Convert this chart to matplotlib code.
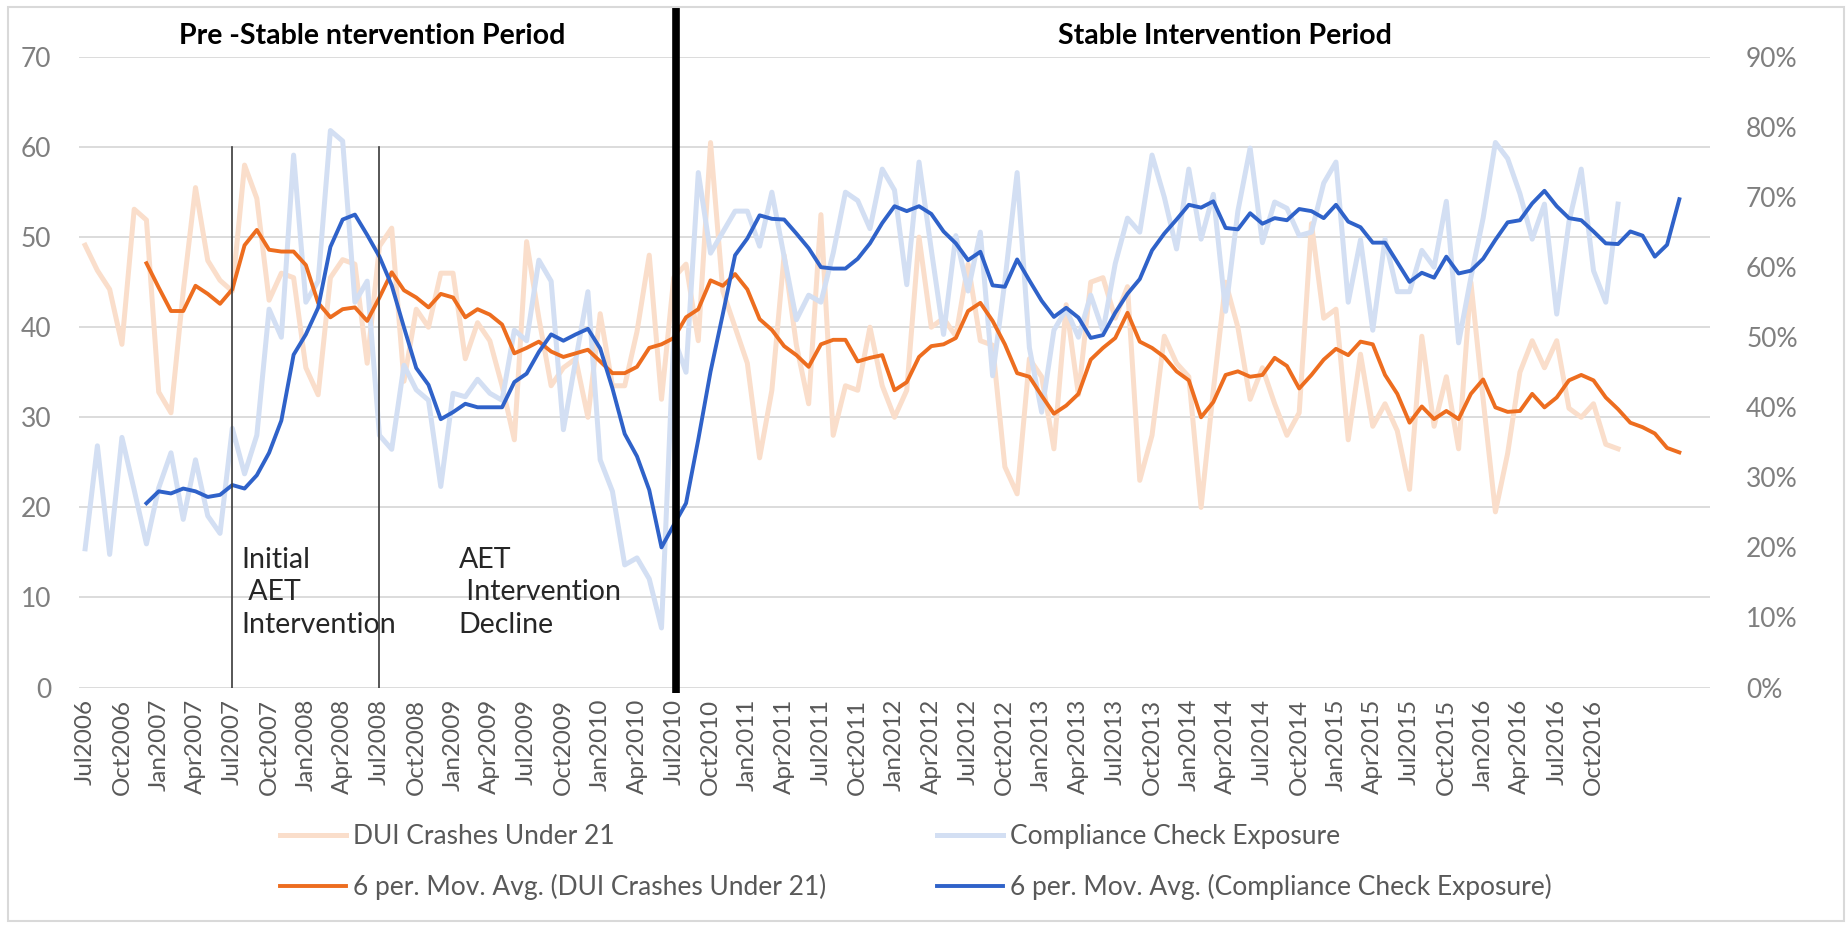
import numpy as np
import matplotlib.pyplot as plt
from matplotlib.patches import Rectangle
from matplotlib.ticker import FuncFormatter

plt.rcParams['font.family'] = ['Lato', 'DejaVu Sans']

# monthly categories Jul2006 .. Jul2017, labels every 3 months (last months unlabeled)
n_months = 133
tick_labels = ['Jul2006', 'Oct2006', 'Jan2007', 'Apr2007', 'Jul2007', 'Oct2007',
               'Jan2008', 'Apr2008', 'Jul2008', 'Oct2008', 'Jan2009', 'Apr2009',
               'Jul2009', 'Oct2009', 'Jan2010', 'Apr2010', 'Jul2010', 'Oct2010',
               'Jan2011', 'Apr2011', 'Jul2011', 'Oct2011', 'Jan2012', 'Apr2012',
               'Jul2012', 'Oct2012', 'Jan2013', 'Apr2013', 'Jul2013', 'Oct2013',
               'Jan2014', 'Apr2014', 'Jul2014', 'Oct2014', 'Jan2015', 'Apr2015',
               'Jul2015', 'Oct2015', 'Jan2016', 'Apr2016', 'Jul2016', 'Oct2016']

# DUI crashes under 21 (left axis), Jul2006 .. Dec2016
dui_crashes = [49.1, 46.3, 44.2, 38.1, 53.1, 51.9, 32.8, 30.5, 44, 55.5,
               47.4, 45.2, 44, 58, 54.3, 43, 46, 45.5, 35.5, 32.5,
               45.5, 47.5, 47, 36, 49, 51, 34, 42, 40, 46,
               46, 36.5, 40.5, 38.5, 33.5, 27.5, 49.5, 41, 33.5, 35.5,
               36.5, 30, 41.5, 33.5, 33.5, 39.5, 48, 32, 45.5, 47,
               38.5, 60.5, 44, 40, 36, 25.5, 33, 48, 38, 31.5,
               52.5, 28, 33.5, 33, 40, 33.5, 30, 33, 50, 40,
               41, 39, 47, 38.5, 38, 24.5, 21.5, 36.5, 34.5, 26.5,
               42.5, 32.5, 45, 45.5, 41, 44.5, 23, 28, 39, 36,
               34.5, 20, 33, 45, 40, 32, 35.5, 31.5, 28, 30.5,
               51.5, 41, 42, 27.5, 37, 29, 31.5, 28.5, 22, 39,
               29, 34.5, 26.5, 45, 32, 19.5, 26, 35, 38.5, 35.5,
               38.5, 31, 30, 31.5, 27, 26.5]

# 6 period moving average of DUI crashes, starts at the 6th month
dui_mov_avg = [47.1, 44.4, 41.8, 41.8, 44.6, 43.7, 42.6, 44.2, 49.1, 50.8,
               48.6, 48.4, 48.4, 46.9, 42.7, 41.1, 42.0, 42.2, 40.7, 43.3,
               46.1, 44.1, 43.3, 42.2, 43.7, 43.3, 41.1, 42.0, 41.4, 40.3,
               37.1, 37.7, 38.4, 37.3, 36.7, 37.1, 37.5, 36.2, 34.9, 34.9,
               35.6, 37.7, 38.1, 38.8, 41.1, 42.0, 45.2, 44.6, 45.9, 44.2,
               40.9, 39.7, 37.9, 36.9, 35.6, 38.1, 38.6, 38.6, 36.2, 36.6,
               36.9, 33.0, 33.9, 36.7, 37.9, 38.1, 38.8, 41.8, 42.7, 40.7,
               38.1, 34.9, 34.5, 32.4, 30.4, 31.3, 32.6, 36.4, 37.7, 38.8,
               41.6, 38.4, 37.7, 36.7, 35.1, 34.1, 30.0, 31.7, 34.7, 35.1,
               34.5, 34.7, 36.6, 35.7, 33.2, 34.7, 36.4, 37.6, 36.9, 38.4,
               38.1, 34.7, 32.6, 29.4, 31.2, 29.8, 30.7, 29.8, 32.6, 34.2,
               31.1, 30.6, 30.7, 32.6, 31.1, 32.2, 34.1, 34.7, 34.1, 32.2,
               30.9, 29.4, 28.9, 28.2, 26.6, 26.1]

# compliance check exposure in percent (right axis)
compliance = [19.8, 34.5, 19.0, 35.7, 28.2, 20.5, 28.5, 33.5, 24, 32.5,
              24.5, 22, 37, 30.5, 36, 54, 50, 76, 55, 58,
              79.5, 78, 55, 58, 36, 34, 46, 42.5, 41, 28.7,
              42, 41.5, 44, 42, 41, 51, 49.5, 61, 58, 36.8,
              46.7, 56.5, 32.5, 28, 17.5, 18.5, 15.5, 8.5, 50, 45,
              73.5, 62, 65, 68, 68, 63, 70.7, 61.5, 52.5, 56,
              55, 62, 70.7, 69.5, 65.5, 74, 71, 57.5, 75, 62.5,
              50.4, 64.5, 56.6, 65, 44.5, 58, 73.5, 48.5, 39.3, 51,
              54, 50, 56, 50.9, 60.5, 67, 65, 76, 70, 62.6,
              74, 64, 70.4, 53.7, 68, 77, 63.5, 69.3, 68.4, 64.5,
              65, 72, 75, 55, 63.9, 51, 64, 56.5, 56.5, 62.4,
              60, 69.4, 49.2, 58.5, 67, 77.8, 75.5, 70.5, 64, 69,
              53.3, 66.5, 74, 59.5, 55, 69]

compliance_mov_avg = [26.3, 28.0, 27.7, 28.4, 28.0, 27.2, 27.5, 28.9, 28.4, 30.3,
                      33.5, 38.1, 47.5, 50.4, 54.2, 62.9, 66.8, 67.5, 64.6, 61.5,
                      57.4, 51.4, 45.6, 43.2, 38.3, 39.3, 40.5, 40.0, 40.0, 40.0,
                      43.6, 44.8, 47.9, 50.4, 49.5, 50.4, 51.2, 48.4, 42.7, 36.2,
                      33.0, 28.2, 20.0, 23.2, 26.3, 35.4, 45.1, 53.3, 61.7, 64.1,
                      67.4, 66.9, 66.8, 64.8, 62.7, 60.0, 59.8, 59.8, 61.2, 63.4,
                      66.3, 68.7, 68.0, 68.7, 67.6, 65.1, 63.4, 61.0, 62.2, 57.4,
                      57.2, 61.1, 58.1, 55.2, 52.9, 54.2, 52.8, 49.9, 50.3, 53.5,
                      56.2, 58.3, 62.4, 64.8, 66.8, 68.9, 68.5, 69.4, 65.6, 65.4,
                      67.7, 66.2, 67.0, 66.7, 68.3, 68.0, 67.0, 68.9, 66.5, 65.7,
                      63.5, 63.5, 60.7, 57.9, 59.2, 58.5, 61.5, 59.1, 59.5, 61.2,
                      63.9, 66.4, 66.7, 69.1, 70.9, 68.7, 67.0, 66.7, 65.1, 63.4,
                      63.3, 65.1, 64.5, 61.5, 63.2, 69.7]

ma_start = 5
x_raw = np.arange(len(dui_crashes))
x_ma = np.arange(ma_start, ma_start + len(dui_mov_avg))

pale_orange = '#FADECB'
pale_blue = '#D3DFF3'
orange = '#ED6D1F'
blue = '#2F62C9'
label_grey = '#595959'

fig = plt.figure(figsize=(18.49, 9.25), dpi=100)
ax = fig.add_axes([79 / 1849, 237.5 / 925, 1631 / 1849, 630.5 / 925])
ax2 = ax.twinx()

ax.set_xlim(-0.5, n_months - 0.5)
ax.set_ylim(0, 70)
ax.set_yticks(range(0, 71, 10))
ax.grid(axis='y', color='#D9D9D9', lw=1.3)
ax.set_axisbelow(True)
ax.set_xticks(np.arange(0, 3 * len(tick_labels), 3))
ax.set_xticklabels(tick_labels, rotation=90, fontsize=17.5, color=label_grey)
ax.tick_params(axis='x', length=0, pad=8)
ax.tick_params(axis='y', length=0, pad=20, labelsize=19, labelcolor='#7F7F7F')

ax2.set_ylim(0, 90)
ax2.set_yticks(range(0, 91, 10))
ax2.yaxis.set_major_formatter(FuncFormatter(lambda v, p: f'{v:.0f}%'))
ax2.tick_params(axis='y', length=0, pad=26, labelsize=19, labelcolor='#7F7F7F')

for a in (ax, ax2):
    for s in a.spines.values():
        s.set_visible(False)

l_dui, = ax.plot(x_raw, dui_crashes, color=pale_orange, lw=3.6,
                 label='DUI Crashes Under 21')
l_cce, = ax2.plot(x_raw, compliance, color=pale_blue, lw=3.6,
                  label='Compliance Check Exposure')
l_dui_ma, = ax2.plot(x_ma, dui_mov_avg, color=orange, lw=2.8, transform=ax.transData,
                     label='6 per. Mov. Avg. (DUI Crashes Under 21)')
l_cce_ma, = ax2.plot(x_ma, compliance_mov_avg, color=blue, lw=2.8,
                     label='6 per. Mov. Avg. (Compliance Check Exposure)')
ax2.set_ylim(0, 90)

# intervention markers
for xm in (11.98, 23.93):
    ax2.plot([xm, xm], [0, 60], color='#3A3A3A', lw=1.2, transform=ax.transData)
ax2.plot([48.2, 48.2], [-0.6, 75.5], color='black', lw=5.5, transform=ax.transData,
         clip_on=False, solid_capstyle='butt')

ax2.text(12.75, 15.6, 'Initial\n AET\nIntervention', transform=ax.transData,
         fontsize=20.5, color='#262626', va='top', ha='left', linespacing=1.3)
ax2.text(30.45, 15.6, 'AET\n Intervention\nDecline', transform=ax.transData,
         fontsize=20.5, color='#262626', va='top', ha='left', linespacing=1.3)

fig.text(372 / 1849, 1 - 36 / 925, 'Pre -Stable ntervention Period', fontsize=20.5,
         fontweight='bold', ha='center', va='center', color='black')
fig.text(1225 / 1849, 1 - 36 / 925, 'Stable Intervention Period', fontsize=20.5,
         fontweight='bold', ha='center', va='center', color='black')

leg_kw = dict(loc='upper left', frameon=False, fontsize=19, handlelength=2.5,
              handletextpad=0.25, labelspacing=0.95, borderpad=0, borderaxespad=0,
              labelcolor=label_grey)
fig.legend(handles=[l_dui, l_dui_ma], bbox_to_anchor=(280 / 1849, 1 - 824 / 925), **leg_kw)
fig.legend(handles=[l_cce, l_cce_ma], bbox_to_anchor=(937 / 1849, 1 - 824 / 925), **leg_kw)

fig.add_artist(Rectangle((8 / 1849, 4 / 925), 1836 / 1849, 914 / 925,
                         transform=fig.transFigure, fill=False, edgecolor='#D9D9D9', lw=1.5))

fig.savefig('out.png', dpi=100)
